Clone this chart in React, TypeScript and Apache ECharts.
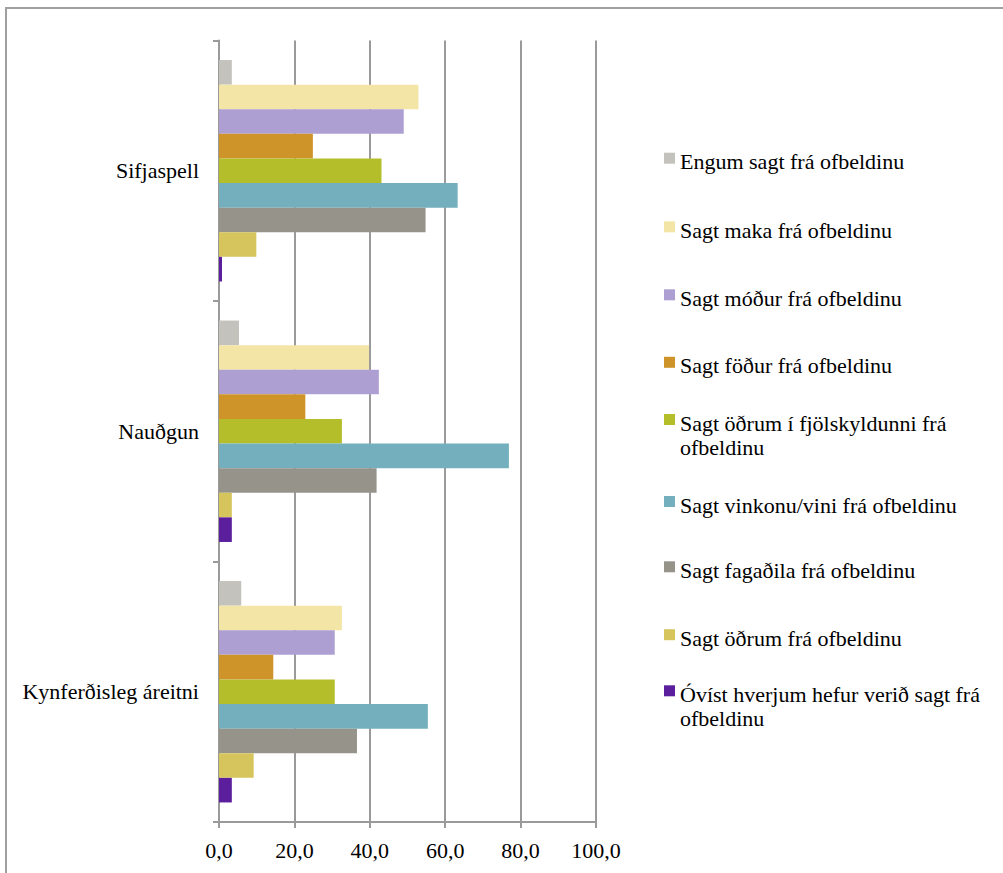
import React, { useEffect, useRef } from "react";
import * as echarts from "echarts";

const categories = ["Kynferðisleg áreitni", "Nauðgun", "Sifjaspell"];
const xTicks = [0, 20, 40, 60, 80, 100];

const seriesNames = [
  "Engum sagt frá ofbeldinu",
  "Sagt maka frá ofbeldinu",
  "Sagt móður frá ofbeldinu",
  "Sagt föður frá ofbeldinu",
  "Sagt öðrum í fjölskyldunni frá ofbeldinu",
  "Sagt vinkonu/vini frá ofbeldinu",
  "Sagt fagaðila frá ofbeldinu",
  "Sagt öðrum frá ofbeldinu",
  "Óvíst hverjum hefur verið sagt frá ofbeldinu",
];

// values in order: Kynferðisleg áreitni, Nauðgun, Sifjaspell
const engum = [5.9, 5.3, 3.4];
const maka = [32.6, 39.8, 52.9];
const modur = [30.7, 42.4, 49.0];
const fodur = [14.4, 22.9, 24.9];
const fjolskylda = [30.7, 32.6, 43.1];
const vinkona = [55.4, 76.9, 63.3];
const fagadili = [36.6, 41.8, 54.8];
const odrum = [9.2, 3.4, 9.9];
const ovist = [3.4, 3.4, 0.8];

const seriesValues = [engum, maka, modur, fodur, fjolskylda, vinkona, fagadili, odrum, ovist];

const colors = [
  "#C4C2BC",
  "#F3E5A6",
  "#AE9FD3",
  "#CF9429",
  "#B4BE2A",
  "#73AFBD",
  "#96938B",
  "#D6C45C",
  "#5B1F9E",
];

const legendLines = [
  ["Engum sagt frá ofbeldinu"],
  ["Sagt maka frá ofbeldinu"],
  ["Sagt móður frá ofbeldinu"],
  ["Sagt föður frá ofbeldinu"],
  ["Sagt öðrum í fjölskyldunni frá", "ofbeldinu"],
  ["Sagt vinkonu/vini frá ofbeldinu"],
  ["Sagt fagaðila frá ofbeldinu"],
  ["Sagt öðrum frá ofbeldinu"],
  ["Óvíst hverjum hefur verið sagt frá", "ofbeldinu"],
];

// centre of each legend icon
const legendCentres = [159.7, 228.3, 296.3, 363.8, 433, 503, 568.3, 636.2, 704.3];

const FONT = "Liberation Serif";
const GRID_COLOR = "#9a9a9a";
const LH = 24;
const SHIFT = 7; // text sits a bit lower than the icon centre

export default function App() {
  const ref = useRef<HTMLDivElement>(null);

  useEffect(() => {
    if (!ref.current) return;
    const chart = echarts.init(ref.current, undefined, { renderer: "svg" });

    const legends = seriesNames.map((name, i) => {
      const lines = legendLines[i];
      const spacer = SHIFT + (lines.length - 1) * LH;
      const blockH = spacer + lines.length * LH;
      return {
        data: [name],
        left: 664,
        top: legendCentres[i] - blockH / 2,
        orient: "vertical",
        padding: 0,
        itemGap: 0,
        itemWidth: 11,
        itemHeight: 11,
        icon: "rect",
        selectedMode: false,
        formatter: () => "{s| }\n" + lines.map((l) => "{a|" + l + "}").join("\n"),
        textStyle: {
          fontFamily: FONT,
          fontSize: 22,
          color: "#000",
          rich: {
            s: { fontSize: 4, lineHeight: spacer, fontFamily: FONT },
            a: { fontSize: 22, lineHeight: LH, fontFamily: FONT, color: "#000" },
          },
        },
      };
    });

    chart.setOption({
      animation: false,
      backgroundColor: "#fff",
      textStyle: { fontFamily: FONT },
      graphic: [
        {
          type: "rect",
          shape: { x: 6, y: 8, width: 1200, height: 1000 },
          style: { fill: "none", stroke: "#a0a0a0", lineWidth: 2 },
          silent: true,
        },
      ],
      legend: legends,
      grid: { left: 219, right: 407, top: 40.5, bottom: 51, containLabel: false },
      xAxis: {
        type: "value",
        min: 0,
        max: 100,
        interval: 20,
        axisLine: { show: true, lineStyle: { color: GRID_COLOR, width: 2 } },
        axisTick: { show: true, length: 6, lineStyle: { color: GRID_COLOR, width: 2 } },
        splitLine: { show: true, lineStyle: { color: GRID_COLOR, width: 2 } },
        axisLabel: {
          margin: 17,
          fontFamily: FONT,
          fontSize: 22,
          color: "#000",
          formatter: (v: number) =>
            xTicks.includes(v) ? v.toFixed(1).replace(".", ",") : "",
        },
      },
      yAxis: {
        type: "category",
        data: categories,
        axisLine: { show: true, lineStyle: { color: GRID_COLOR, width: 2 } },
        axisTick: { show: true, length: 6, lineStyle: { color: GRID_COLOR, width: 2 } },
        splitLine: { show: false },
        axisLabel: {
          margin: 20,
          fontFamily: FONT,
          fontSize: 22,
          color: "#000",
        },
      },
      series: seriesNames.map((name, i) => ({
        name,
        type: "bar",
        data: seriesValues[i],
        barGap: "0%",
        barCategoryGap: "15%",
        itemStyle: { color: colors[i] },
      })),
    });

    return () => chart.dispose();
  }, []);

  return (
    <div
      ref={ref}
      style={{ position: "absolute", left: 0, top: 0, width: 1003, height: 873 }}
    />
  );
}
